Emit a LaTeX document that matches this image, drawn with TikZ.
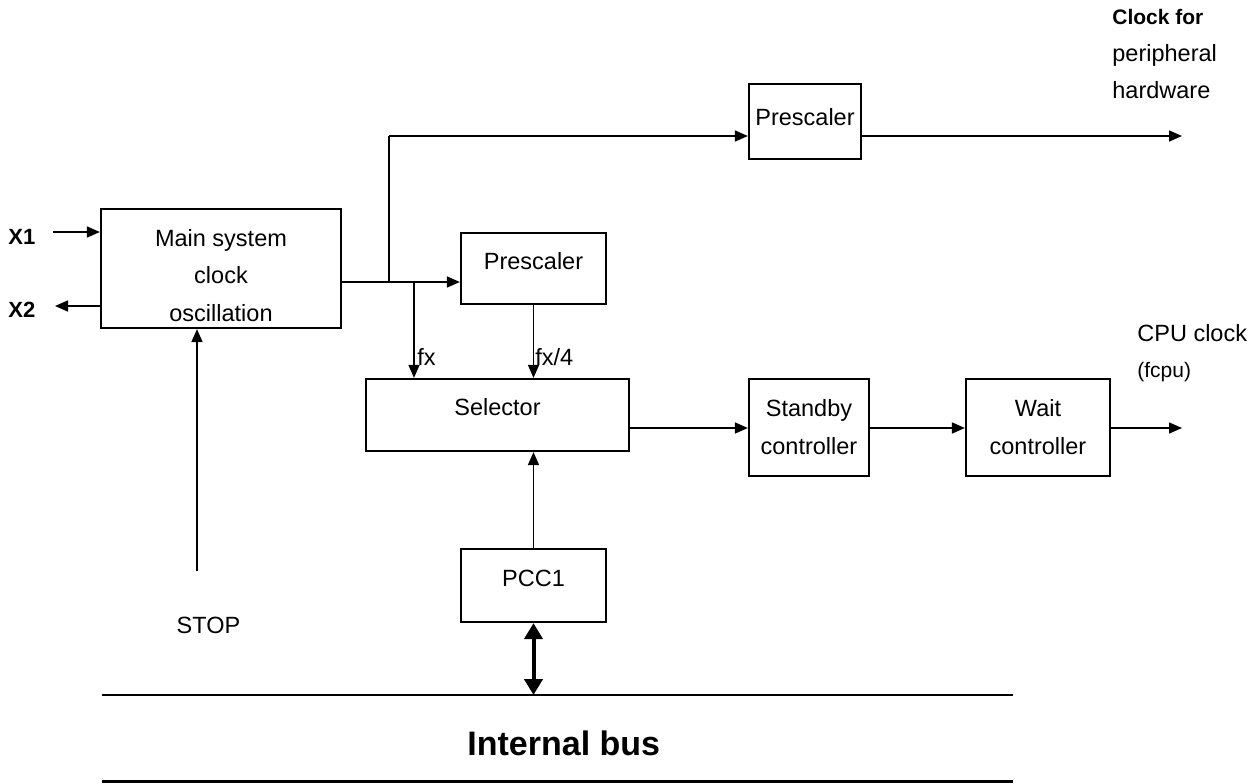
\documentclass[tikz,border=0pt]{standalone}
\usepackage{fontspec}
\setmainfont{Liberation Sans}
\usetikzlibrary{arrows.meta}
\begin{document}
\begin{tikzpicture}[x=0.5pt,y=-0.5pt,
  font=\fontsize{11.75}{18.75}\selectfont,
  blk/.style={draw,line width=1.1pt,inner sep=0pt},
  txt/.style={inner sep=0pt,align=center},
  wire/.style={line width=0.8pt},
  conn/.style={line width=0.8pt,-{Triangle[length=6.5pt,width=5.5pt]}},
  busarrow/.style={line width=2pt,{Triangle[length=8pt,width=9pt]}-{Triangle[length=8pt,width=9pt]}},
  busline/.style={line width=1.1pt},
  bold/.style={font=\fontsize{11}{13}\selectfont\bfseries}]
\useasboundingbox (0,0) rectangle (1260,783);

% blocks
\node[blk,minimum width=120pt,minimum height=59.5pt] (osc) at (221,268.5) {};
\node[txt] (osc-t) at (221,275.5) {Main system\\clock\\oscillation};

\node[blk,minimum width=56pt,minimum height=37.5pt] (pre1) at (805,121.5) {};
\node[txt] (pre1-t) at (805,117) {Prescaler};

\node[blk,minimum width=72.5pt,minimum height=35.5pt] (pre2) at (533.5,268.5) {};
\node[txt] (pre2-t) at (533.5,261) {Prescaler};

\node[blk,minimum width=131.5pt,minimum height=36pt] (sel) at (497.5,415) {};
\node[txt] (sel-t) at (497.5,407) {Selector};

\node[blk,minimum width=72.5pt,minimum height=36.5pt] (pcc) at (533.5,585.5) {};
\node[txt] (pcc-t) at (533.5,578) {PCC1};

\node[blk,minimum width=60pt,minimum height=48.5pt] (stb) at (809,427.5) {};
\node[txt] (stb-t) at (809,427) {Standby\\controller};

\node[blk,minimum width=72pt,minimum height=48.5pt] (wait) at (1038,427.5) {};
\node[txt] (wait-t) at (1038,427) {Wait\\controller};

% labels
\node[txt,bold,anchor=west] (x1) at (8,237) {X1};
\node[txt,bold,anchor=west] (x2) at (8,310) {X2};
\node[txt] (stop) at (208.5,625) {STOP};
\node[txt,anchor=west] (fx) at (417,357) {fx};
\node[txt,anchor=west] (fx4) at (535,357) {fx/4};
\node[txt,anchor=west,font=\fontsize{10.5}{12}\selectfont\bfseries] (clk1) at (1112,17) {Clock for};
\node[txt,anchor=west] (clk2) at (1112,55) {peripheral};
\node[txt,anchor=west] (clk3) at (1112,90) {hardware};
\node[txt,anchor=west] (cpu1) at (1137,333) {CPU clock};
\node[txt,anchor=west,font=\fontsize{10.5}{12}\selectfont] (cpu2) at (1137,372) {(fcpu)};
\node[txt,anchor=west,font=\fontsize{17}{20}\selectfont\bfseries] (bus) at (467,743) {Internal bus};

% free ends and junctions
\coordinate (x1in) at (53,232);
\coordinate (x2out) at (55,306);
\coordinate (oscout) at (341,282);
\coordinate (j1) at (389,282);
\coordinate (j2) at (414,282);
\coordinate (jtop) at (389,136);
\coordinate (perout) at (1182,136);
\coordinate (cpuout) at (1182,428);
\coordinate (stopin) at (197,571);
\coordinate (busL) at (102,695);
\coordinate (busR) at (1013,695);
\coordinate (bus2L) at (102,781.5);
\coordinate (bus2R) at (1013,781.5);

% oscillator pins
\draw[conn] (x1in) -- (x1in -| osc.west);
\draw[conn] (x2out -| osc.west) -- (x2out);
\draw[conn] (stopin) -- (stopin |- osc.south);

% clock distribution
\draw[conn] (oscout) -- (oscout -| pre2.west);
\draw[wire] (j1) -- (jtop);
\draw[conn] (jtop) -- (jtop -| pre1.west);
\draw[conn] (pre1.east |- perout) -- (perout);
\draw[conn] (j2) -- (j2 |- sel.north);
\draw[conn] (pre2.south) -- (pre2.south |- sel.north);

% CPU clock chain
\draw[conn] (sel.east |- cpuout) -- (stb.west |- cpuout);
\draw[conn] (stb.east |- cpuout) -- (wait.west |- cpuout);
\draw[conn] (wait.east |- cpuout) -- (cpuout);

% control register and bus
\draw[conn] (pcc.north) -- (pcc.north |- sel.south);
\draw[busline] (busL) -- (busR);
\draw[busline] (bus2L) -- (bus2R);
\draw[busarrow] (pcc.south) -- (pcc.south |- busL);
\end{tikzpicture}
\end{document}
